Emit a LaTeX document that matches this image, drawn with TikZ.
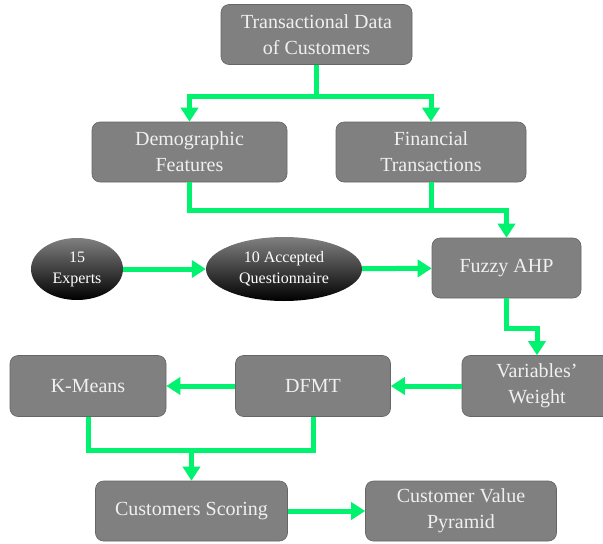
\documentclass[tikz,border=0pt]{standalone}
\usepackage{fontspec}
\setmainfont{Liberation Serif}
\usetikzlibrary{arrows.meta,shapes.geometric}

\definecolor{boxgray}{RGB}{128,128,128}
\definecolor{flowgreen}{RGB}{0,242,110}

\tikzset{
  box/.style={draw=boxgray!80!black, line width=0.6pt, fill=boxgray, rounded corners=8pt,
    text=white!94!black, font=\fontsize{20}{26}\selectfont, align=center,
    minimum height=60pt, inner sep=2pt},
  oval/.style={ellipse, top color=black!50, middle color=black, bottom color=black,
    text=white, font=\fontsize{16}{21}\selectfont, align=center, inner sep=0pt},
  flow/.style={draw=flowgreen, line width=5pt, -{Triangle[length=14pt,width=17pt]}},
  link/.style={draw=flowgreen, line width=5pt},
}

\begin{document}
\begin{tikzpicture}[x=1pt, y=-1pt]
  \useasboundingbox (0,0) rectangle (603,544);
  \clip (0,0) rectangle (603,544);

  \node[box, minimum width=191pt] (data) at (316.5,34.5) {Transactional Data\\of Customers};
  \node[box, minimum width=195pt] (demo) at (189.5,152) {Demographic\\Features};
  \node[box, minimum width=190pt] (fin) at (431,152) {Financial\\Transactions};

  \node[oval, minimum width=92pt, minimum height=62pt] (experts) at (77,269) {15\\Experts};
  \node[oval, minimum width=156pt, minimum height=64pt] (quest) at (284,269) {10 Accepted\\Questionnaire};
  \node[box, minimum width=149pt] (fahp) at (506.5,268) {Fuzzy AHP};

  \node[box, minimum width=150pt, minimum height=61pt] (weight) at (537,386) {Variables'\\Weight};
  \node[box, minimum width=155pt, minimum height=61pt] (dfmt) at (313,386) {DFMT};
  \node[box, minimum width=156pt, minimum height=61pt] (kmeans) at (88,386) {K-Means};

  \node[box, minimum width=192pt] (score) at (191.5,511) {Customers Scoring};
  \node[box, minimum width=191pt] (pyramid) at (461,511) {Customer Value\\Pyramid};

  % split from the data box
  \draw[flow] (data.south) -- ++(0,32) -| (demo.north);
  \draw[flow] (data.south) -- ++(0,32) -| (fin.north);

  % features into fuzzy AHP
  \draw[flow] (demo.south) -- ++(0,28) -| (fahp.north);
  \draw[link] (fin.south) -- ++(0,28);
  \draw[flow] (experts) -- (quest);
  \draw[flow] (quest) -- (fahp);

  \draw[flow] (fahp.south) -- ++(0,30) -| (weight.north);
  \draw[flow] (weight) -- (dfmt);
  \draw[flow] (dfmt) -- (kmeans);

  % merge down to scoring
  \path (kmeans.south) ++(0,34) coordinate (kmbend);
  \coordinate (join) at (kmbend -| score.north);
  \draw[link] (kmeans.south) -- (kmbend) -| (dfmt.south);
  \draw[flow] (join) -- (score.north);
  \draw[flow] (score) -- (pyramid);
\end{tikzpicture}
\end{document}
